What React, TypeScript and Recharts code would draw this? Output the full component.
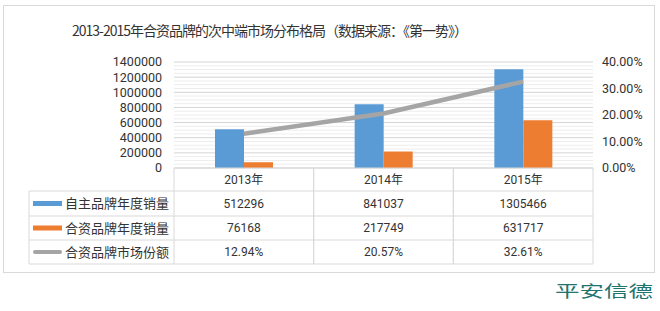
import React from 'react';
import { ComposedChart, Bar, Line, XAxis, YAxis, CartesianGrid } from 'recharts';

const years = ['2013年', '2014年', '2015年'];
const domesticSales = [512296, 841037, 1305466];
const jvSales = [76168, 217749, 631717];
const jvShare = [0.1294, 0.2057, 0.3261];
const shareLabels = ['12.94%', '20.57%', '32.61%'];
const seriesNames = ['自主品牌年度销量', '合资品牌年度销量', '合资品牌市场份额'];
const leftTicks = [0, 200000, 400000, 600000, 800000, 1000000, 1200000, 1400000];
const rightTicks = [0, 0.1, 0.2, 0.3, 0.4];
const titleText = '2013-2015年合资品牌的次中端市场分布格局（数据来源：《第一势》）';
const logoText = '平安信德';

const COLORS = ['#5B9BD5', '#ED7D31', '#A5A5A5'];
const GRID = '#d9d9d9';
const TEXT = '#333333';
const CJK = "Roboto, 'Noto Sans CJK SC', sans-serif";

const data = years.map((y, i) => ({ year: y, a: domesticSales[i], b: jvSales[i], c: jvShare[i] }));

const minorTicks: number[] = [];
for (let v = 50000; v < 1400000; v += 50000) if (v % 200000 !== 0) minorTicks.push(v);

const W = 660;
const H = 311;
const M = { top: 62, right: 7, bottom: 43, left: 74 };
const YL_W = 100;
const YR_W = 60;
const XA_H = 100;
const PLOT_W = W - M.left - M.right - YL_W - YR_W;
const COL_W = PLOT_W / years.length;
const ROWS = [0, 23, 48, 72, 96];
const LEG_W = 145;

const rowValues = [
  domesticSales.map((v) => String(v)),
  jvSales.map((v) => String(v)),
  shareLabels,
];

const TableTick = (props: any) => {
  const { x, y, payload } = props;
  const i = payload.index;
  const left = x - COL_W / 2;
  const right = x + COL_W / 2;
  const els: any[] = [];
  els.push(<line key="vl" x1={left} x2={left} y1={y} y2={y + ROWS[4]} stroke={GRID} />);
  els.push(<line key="vr" x1={right} x2={right} y1={y} y2={y + ROWS[4]} stroke={GRID} />);
  for (let r = 1; r < ROWS.length; r++) {
    els.push(<line key={'h' + r} x1={left} x2={right} y1={y + ROWS[r]} y2={y + ROWS[r]} stroke={GRID} />);
  }
  els.push(
    <text key="yr" x={x} y={y + (ROWS[0] + ROWS[1]) / 2} textAnchor="middle" dominantBaseline="central" fontSize={12} fontFamily={CJK} fill={TEXT}>
      {payload.value}
    </text>
  );
  for (let r = 0; r < 3; r++) {
    els.push(
      <text key={'v' + r} x={x} y={y + (ROWS[r + 1] + ROWS[r + 2]) / 2} textAnchor="middle" dominantBaseline="central" fontSize={12} fontFamily={CJK} fill={TEXT}>
        {rowValues[r][i]}
      </text>
    );
  }
  if (i === 0) {
    const lx = left - LEG_W;
    els.push(<line key="lvl" x1={lx} x2={lx} y1={y + ROWS[1]} y2={y + ROWS[4]} stroke={GRID} />);
    for (let r = 1; r < ROWS.length; r++) {
      els.push(<line key={'lh' + r} x1={lx} x2={left} y1={y + ROWS[r]} y2={y + ROWS[r]} stroke={GRID} />);
    }
    for (let r = 0; r < 3; r++) {
      const cy = y + (ROWS[r + 1] + ROWS[r + 2]) / 2;
      if (r < 2) {
        els.push(<rect key={'k' + r} x={lx + 4} y={cy - 2.5} width={29} height={5} fill={COLORS[r]} />);
      } else {
        els.push(<line key={'k' + r} x1={lx + 6} x2={lx + 31} y1={cy} y2={cy} stroke={COLORS[r]} strokeWidth={4} strokeLinecap="round" />);
      }
      els.push(
        <text key={'lt' + r} x={lx + 36} y={cy} dominantBaseline="central" fontSize={13} fontFamily={CJK} fill={TEXT}>
          {seriesNames[r]}
        </text>
      );
    }
  }
  return <g>{els}</g>;
};

export default function App() {
  return (
    <div style={{ position: 'absolute', left: 0, top: 0, width: W, height: H, background: '#fff' }}>
      <svg width={W} height={H} style={{ position: 'absolute', left: 0, top: 0 }}>
        <rect x={3.5} y={5.5} width={651} height={267} fill="none" stroke={GRID} />
        <text x={72} y={30} dominantBaseline="central" fontSize={14} fontFamily="'Noto Sans CJK SC', sans-serif" fill={TEXT} letterSpacing={-1}>
          {titleText}
        </text>
        <text x={555} y={290} dominantBaseline="central" fontSize={16} fontFamily="'Noto Sans CJK SC', sans-serif" fill="#1f7470" textLength={98} lengthAdjust="spacingAndGlyphs">
          {logoText}
        </text>
      </svg>
      <div style={{ position: 'absolute', left: 0, top: 0 }}>
        <ComposedChart width={W} height={H} data={data} margin={M} barGap={0} barSize={29}>
          <CartesianGrid yAxisId="left" vertical={false} horizontalValues={minorTicks} stroke="#ededed" />
          <CartesianGrid yAxisId="left" vertical={false} horizontalValues={leftTicks} stroke="#d4d4d4" />
          <XAxis
            dataKey="year"
            height={XA_H}
            interval={0}
            tickSize={0}
            tickMargin={0}
            axisLine={{ stroke: GRID }}
            tickLine={false}
            tick={<TableTick />}
          />
          <YAxis
            yAxisId="left"
            width={YL_W}
            domain={[0, 1400000]}
            ticks={leftTicks}
            interval={0}
            axisLine={false}
            tickLine={false}
            tickSize={0}
            tickMargin={12}
            tick={{ fontSize: 12.5, fill: TEXT, fontFamily: 'Roboto' }}
          />
          <YAxis
            yAxisId="right"
            orientation="right"
            width={YR_W}
            domain={[0, 0.4]}
            ticks={rightTicks}
            interval={0}
            axisLine={false}
            tickLine={false}
            tickSize={0}
            tickMargin={9}
            tickFormatter={(v: number) => (v * 100).toFixed(2) + '%'}
            tick={{ fontSize: 12.5, fill: TEXT, fontFamily: 'Roboto', textAnchor: 'start' }}
          />
          <Bar yAxisId="left" dataKey="a" name={seriesNames[0]} fill={COLORS[0]} isAnimationActive={false} />
          <Bar yAxisId="left" dataKey="b" name={seriesNames[1]} fill={COLORS[1]} isAnimationActive={false} />
          <Line yAxisId="right" dataKey="c" name={seriesNames[2]} stroke={COLORS[2]} strokeWidth={4.5} dot={false} activeDot={false} isAnimationActive={false} />
        </ComposedChart>
      </div>
    </div>
  );
}
